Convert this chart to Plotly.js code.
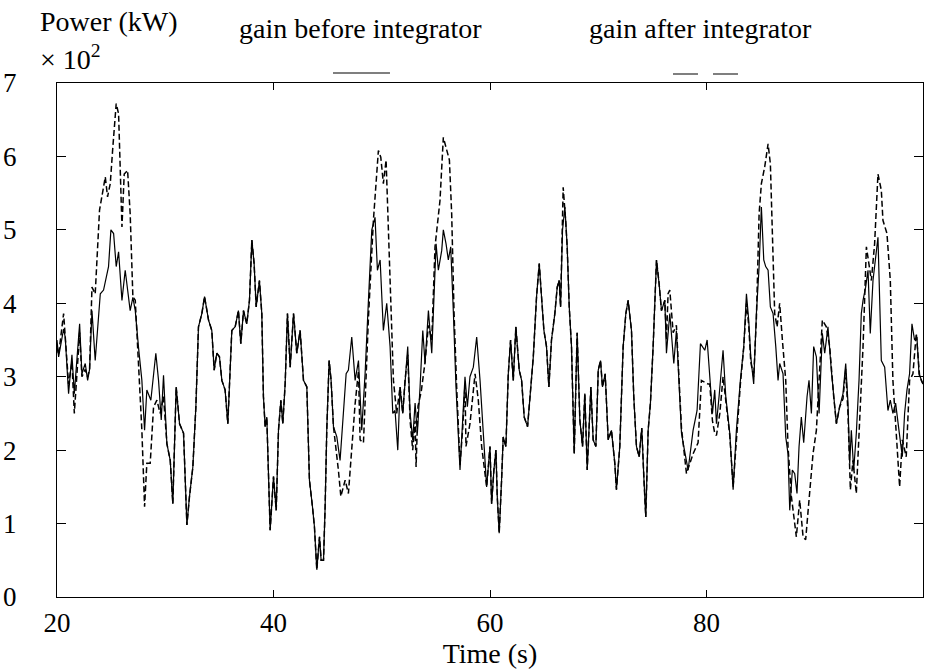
<!DOCTYPE html>
<html>
<head>
<meta charset="utf-8">
<script src="https://cdn.plot.ly/plotly-3.0.1.min.js"></script>
<style>html,body{margin:0;padding:0;background:#fff;}#chart{width:935px;height:671px;}</style>
</head>
<body>
<div id="chart"></div>
<script>
// Time (s) and power (kW x 10^2) for "gain before integrator" (solid)
const timeBefore = [20.0,20.15,20.61,20.76,21.07,21.38,21.6,21.78,22.09,22.3,22.61,22.83,23.01,23.23,23.53,24.0,24.3,24.76,24.98,25.23,25.47,25.69,26.0,26.3,26.55,26.76,27.01,27.23,27.53,27.84,28.09,28.3,28.67,29.13,29.38,29.63,29.84,30.15,30.46,30.7,31.01,31.32,31.69,32.0,32.24,32.55,32.83,33.07,33.38,33.63,34.0,34.3,34.52,34.76,35.01,35.23,35.53,35.78,36.15,36.46,36.76,36.98,37.23,37.53,37.78,38.0,38.21,38.4,38.7,38.92,39.07,39.23,39.38,39.69,40.0,40.25,40.46,40.68,40.86,41.08,41.29,41.54,41.85,42.15,42.46,42.77,43.08,43.32,43.6,43.78,44.0,44.25,44.4,44.62,44.77,44.92,45.14,45.32,45.54,45.85,46.15,46.46,46.71,46.92,47.23,47.54,47.85,48.15,48.46,48.77,49.08,49.38,49.6,49.85,50.15,50.46,50.77,51.02,51.23,51.48,51.69,51.94,52.15,52.4,52.62,52.86,53.08,53.29,53.54,53.79,54.0,54.31,54.62,54.77,55.02,55.23,55.54,55.69,55.94,56.15,56.37,56.62,56.86,57.23,57.48,57.69,57.91,58.15,58.46,58.77,59.08,59.32,59.69,60.0,60.15,60.36,60.55,60.67,60.85,61.07,61.22,61.47,61.69,61.9,62.15,62.39,62.7,62.92,63.16,63.47,63.69,64.0,64.3,64.55,64.76,64.98,65.22,65.44,65.68,65.99,66.21,66.39,66.52,66.7,66.92,67.13,67.32,67.53,67.78,68.05,68.3,68.55,68.76,68.98,69.32,69.53,69.78,70.0,70.21,70.39,70.64,70.92,71.22,71.53,71.68,71.99,72.3,72.55,72.76,73.07,73.28,73.53,73.78,74.02,74.21,74.39,74.61,74.82,75.07,75.38,75.62,75.84,76.15,76.3,76.61,76.98,77.22,77.47,77.69,77.9,78.3,78.76,79.13,79.44,79.84,80.06,80.3,80.55,80.76,80.92,81.16,81.53,81.78,82.15,82.46,82.76,83.13,83.44,83.69,83.9,84.09,84.36,84.61,84.86,85.07,85.29,85.47,85.69,85.9,86.15,86.4,86.61,86.76,87.07,87.32,87.53,87.69,87.93,88.15,88.36,88.55,88.76,88.98,89.29,89.47,89.69,89.9,90.15,90.4,90.7,90.92,91.22,91.53,91.75,92.0,92.3,92.61,92.86,93.07,93.23,93.38,93.6,93.84,94.09,94.3,94.46,94.7,94.92,95.13,95.38,95.63,95.84,96.15,96.46,96.76,96.98,97.22,97.47,97.78,98.09,98.3,98.52,98.76,98.98,99.22,99.44,99.63,100];
const powerBefore = [3.5,3.27,3.65,3.54,2.77,3.3,2.77,3.1,3.72,3.04,3.18,2.95,3.1,3.9,3.22,4.13,4.18,4.5,5.0,4.95,4.5,4.7,4.04,4.45,4.13,3.9,4.08,3.9,3.4,2.95,2.27,2.82,2.68,3.32,2.95,2.41,3.02,2.09,1.86,1.27,2.86,2.36,2.23,0.98,1.37,1.77,2.59,3.68,3.86,4.09,3.77,3.63,3.09,3.32,3.27,2.95,2.82,2.36,3.63,3.68,3.9,3.45,3.9,3.72,4.04,4.86,4.54,3.95,4.31,3.86,2.73,2.32,2.45,0.91,1.64,1.18,2.27,2.68,2.36,2.91,3.86,3.13,3.86,3.32,3.63,2.95,2.86,1.59,1.23,0.96,0.37,0.82,0.5,0.5,1.23,2.27,3.22,2.95,2.32,2.18,1.86,2.5,3.04,3.09,3.54,2.95,3.22,2.27,3.04,4.04,5.0,5.17,4.45,4.59,3.63,4.0,3.41,2.5,2.54,2.0,2.86,2.5,2.95,3.41,2.5,2.14,2.64,2.23,2.86,3.63,3.18,3.9,3.32,3.95,4.81,4.45,4.72,5.0,4.81,4.59,4.77,3.86,2.86,1.73,2.36,3.0,2.59,3.0,3.13,3.54,2.95,2.36,1.5,2.05,1.27,1.73,2.0,1.37,0.87,1.59,2.18,2.05,3.04,3.5,2.95,3.68,3.09,2.95,2.45,2.32,2.68,3.27,4.09,4.54,4.09,3.63,3.41,2.86,3.5,3.86,4.22,4.31,3.95,5.0,5.31,4.77,3.95,3.41,1.95,3.6,2.41,2.05,2.77,1.73,2.86,2.14,2.05,3.09,3.22,2.86,3.04,2.14,2.27,1.82,1.46,2.05,3.41,3.86,4.04,3.63,2.73,2.05,1.91,2.3,1.64,1.09,2.27,2.64,3.41,4.59,4.27,3.9,4.04,3.32,3.86,3.18,3.63,2.95,2.23,2.05,1.73,2.27,2.54,3.45,3.36,3.5,2.95,2.5,2.82,2.36,2.73,3.36,2.73,2.23,1.46,2.27,2.95,3.41,4.13,3.77,3.27,2.9,3.86,4.5,5.31,4.59,4.5,4.45,3.95,3.86,3.41,2.95,3.18,3.04,2.18,1.95,1.18,1.73,1.68,1.41,2.05,2.45,2.1,2.73,2.95,2.5,3.41,3.27,2.5,3.59,3.32,3.68,3.09,2.73,2.36,2.59,2.77,3.18,2.64,1.82,2.27,1.73,2.23,2.95,3.86,4.04,4.22,4.45,3.59,4.31,4.68,4.9,3.22,3.13,2.54,2.68,2.5,2.64,2.27,1.91,2.5,2.82,3.04,3.72,3.5,3.54,3.04,2.9];

// Time (s) and power (kW x 10^2) for "gain after integrator" (dashed)
const timeAfter = [20.0,20.15,20.61,20.76,21.07,21.38,21.6,21.78,22.09,22.3,22.61,22.83,23.01,23.23,23.53,23.93,24.24,24.46,24.67,24.92,25.16,25.47,25.69,25.84,26.0,26.21,26.52,26.76,27.01,27.23,27.53,27.84,28.09,28.3,28.61,28.92,29.23,29.53,29.84,30.15,30.46,30.7,31.01,31.32,31.69,32.0,32.24,32.55,32.83,33.07,33.38,33.63,34.0,34.3,34.52,34.76,35.01,35.23,35.53,35.78,36.15,36.46,36.76,36.98,37.23,37.53,37.78,38.0,38.21,38.4,38.7,38.92,39.07,39.23,39.38,39.69,40.0,40.25,40.46,40.68,40.86,41.08,41.29,41.54,41.85,42.15,42.46,42.77,43.08,43.32,43.6,43.78,44.0,44.25,44.4,44.62,44.77,44.92,45.14,45.32,45.54,45.69,46.0,46.22,46.62,46.92,47.23,47.54,47.85,48.0,48.31,48.77,49.23,49.69,49.91,50.15,50.4,50.62,50.83,51.08,51.38,51.69,51.94,52.15,52.4,52.62,52.86,53.08,53.17,53.35,53.65,54.0,54.31,54.62,54.92,55.38,55.69,55.94,56.25,56.46,56.68,56.92,57.23,57.48,57.69,57.78,58.15,58.62,58.92,59.23,59.69,60.0,60.15,60.36,60.55,60.67,60.85,61.07,61.22,61.47,61.69,61.9,62.15,62.39,62.7,62.92,63.16,63.47,63.69,64.0,64.3,64.55,64.76,64.98,65.22,65.44,65.68,65.99,66.21,66.39,66.52,66.76,67.0,67.13,67.32,67.53,67.78,68.05,68.3,68.55,68.76,68.98,69.32,69.53,69.78,70.0,70.21,70.39,70.64,70.92,71.22,71.53,71.68,71.99,72.3,72.55,72.76,73.07,73.28,73.53,73.78,74.02,74.21,74.39,74.61,74.82,75.07,75.38,75.62,75.84,76.15,76.3,76.45,76.61,76.92,77.22,77.47,77.69,78.15,78.76,79.22,79.53,80.15,80.3,80.55,80.76,80.92,81.23,81.53,81.78,82.15,82.46,82.76,83.13,83.44,83.69,83.9,84.09,84.36,84.61,84.86,85.07,85.38,85.69,85.9,86.09,86.3,86.52,86.76,87.01,87.32,87.53,87.84,88.3,88.61,88.92,89.16,89.47,89.84,90.15,90.4,90.7,91.07,91.38,91.75,92.0,92.3,92.61,92.86,93.07,93.29,93.53,93.84,94.09,94.46,94.77,95.01,95.23,95.53,95.84,96.15,96.3,96.67,96.98,97.22,97.53,97.84,98.09,98.45,98.76,99.07,99.38,99.69,100];
const powerAfter = [3.4,3.3,3.86,3.5,2.9,3.2,2.5,2.9,3.6,3.0,3.1,3.0,3.1,4.22,4.13,5.27,5.54,5.72,5.45,5.63,6.13,6.72,6.58,5.67,5.04,5.76,5.81,5.22,4.09,4.04,3.18,2.27,1.23,1.82,1.82,2.59,2.68,2.5,2.73,2.09,1.86,1.27,2.86,2.36,2.23,0.98,1.37,1.77,2.59,3.68,3.86,4.09,3.77,3.63,3.09,3.32,3.27,2.95,2.82,2.36,3.63,3.68,3.9,3.45,3.9,3.72,4.04,4.86,4.54,3.95,4.31,3.86,2.73,2.32,2.45,0.91,1.64,1.18,2.27,2.68,2.36,2.91,3.86,3.13,3.86,3.32,3.63,2.95,2.86,1.59,1.23,0.96,0.37,0.82,0.5,0.5,1.23,2.27,3.22,2.95,2.32,2.14,1.72,1.37,1.59,1.41,2.05,2.63,3.08,2.14,2.1,3.8,5.13,6.08,5.99,5.63,5.95,5.0,3.86,2.95,2.5,2.86,2.5,2.95,3.3,2.4,2.0,2.4,1.77,2.6,2.8,3.2,3.7,3.5,4.77,5.4,6.26,6.12,5.95,5.22,3.86,2.86,1.8,2.3,2.9,2.05,2.36,3.04,2.68,2.05,1.5,2.05,1.27,1.73,2.0,1.37,0.87,1.59,2.18,2.05,3.04,3.5,2.95,3.68,3.09,2.95,2.45,2.32,2.68,3.27,4.09,4.54,4.09,3.63,3.41,2.86,3.5,3.86,4.22,4.31,3.95,5.58,5.1,4.77,3.95,3.41,1.95,3.6,2.41,2.05,2.77,1.73,2.86,2.14,2.05,3.09,3.22,2.86,3.04,2.14,2.27,1.82,1.46,2.05,3.41,3.86,4.04,3.63,2.73,2.05,1.91,2.3,1.64,1.09,2.27,2.64,3.41,4.59,4.27,3.9,4.04,3.5,4.13,4.18,3.6,3.7,2.95,2.3,1.68,1.95,2.1,2.95,2.9,2.9,2.4,2.23,2.2,2.5,3.0,2.7,2.2,1.5,2.2,2.9,3.4,4.0,3.7,3.2,3.0,3.8,5.22,5.63,5.86,6.17,5.9,4.77,3.86,3.68,4.0,3.5,2.95,2.05,1.37,0.82,1.32,0.82,0.78,1.32,1.95,2.27,2.95,3.77,3.68,3.41,2.73,2.36,2.59,2.7,3.1,2.5,1.46,1.86,1.41,2.27,3.41,4.77,4.54,4.31,4.81,5.76,5.54,5.13,4.95,4.31,2.95,2.23,1.5,2.14,1.91,2.95,3.04,3.59,3.0,2.9];

const xTicks = [20, 40, 60, 80, 100];
const yTicks = [0, 1, 2, 3, 4, 5, 6, 7];
const seriesNames = ['gain before integrator', 'gain after integrator'];

const traces = [
  {x: timeBefore, y: powerBefore, type: 'scatter', mode: 'lines', name: seriesNames[0],
   line: {color: '#000', width: 1.2}},
  {x: timeAfter, y: powerAfter, type: 'scatter', mode: 'lines', name: seriesNames[1],
   line: {color: '#000', width: 1.5, dash: '6px,3px'}}
];

const layout = {
  width: 935, height: 671,
  margin: {l: 57, r: 12, t: 83, b: 74},
  showlegend: false,
  font: {family: 'Liberation Serif', size: 28, color: '#000'},
  xaxis: {
    range: [20, 100], tickvals: xTicks,
    ticks: 'inside', ticklen: 7, tickcolor: '#000',
    showline: true, linecolor: '#000', mirror: 'ticks',
    showgrid: false, zeroline: false, ticklabelstandoff: 2,
    tickfont: {family: 'Liberation Serif', size: 27},
    title: {text: 'Time (s)', font: {family: 'Liberation Serif', size: 28}, standoff: 4}
  },
  yaxis: {
    range: [0, 7], tickvals: yTicks,
    ticks: 'inside', ticklen: 9, tickcolor: '#000',
    showline: true, linecolor: '#000', mirror: 'ticks',
    showgrid: false, zeroline: false, ticklabelstandoff: 34,
    tickfont: {family: 'Liberation Serif', size: 27}
  },
  annotations: [
    {xref: 'paper', yref: 'paper', x: -0.022, y: 1.119, xanchor: 'left', yanchor: 'middle',
     text: 'Power (kW)', showarrow: false, font: {family: 'Liberation Serif', size: 28}},
    {xref: 'paper', yref: 'paper', x: -0.022, y: 1.05, xanchor: 'left', yanchor: 'middle',
     text: '× 10<sup>2</sup>', showarrow: false, font: {family: 'Liberation Serif', size: 28}},
    {xref: 'paper', yref: 'paper', x: 0.35, y: 1.107, xanchor: 'center', yanchor: 'middle',
     text: seriesNames[0], showarrow: false, font: {family: 'Liberation Serif', size: 28}},
    {xref: 'paper', yref: 'paper', x: 0.7425, y: 1.107, xanchor: 'center', yanchor: 'middle',
     text: seriesNames[1], showarrow: false, font: {family: 'Liberation Serif', size: 28}}
  ],
  shapes: [
    {type: 'line', xref: 'paper', yref: 'paper', x0: 0.3187, x1: 0.3845, y0: 1.0195, y1: 1.0195,
     line: {color: '#000', width: 1.2}},
    {type: 'line', xref: 'paper', yref: 'paper', x0: 0.7113, x1: 0.7864, y0: 1.0175, y1: 1.0175,
     line: {color: '#000', width: 1.2, dash: '25px,15px'}}
  ]
};

Plotly.newPlot('chart', traces, layout, {staticPlot: true});
</script>
</body>
</html>
